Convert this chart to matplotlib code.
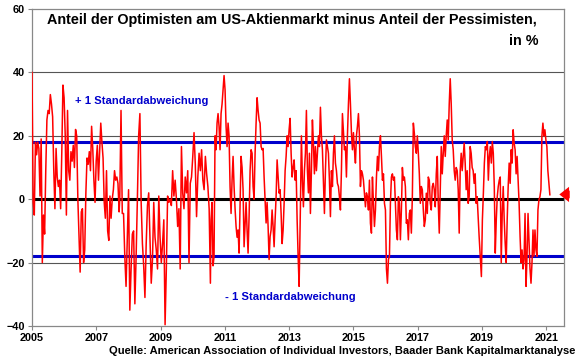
import numpy as np
import matplotlib.pyplot as plt

plt.rcParams['font.family'] = ['Liberation Sans', 'DejaVu Sans']
plt.rcParams['font.weight'] = 'bold'

# AAII Bull-Bear-Spread (Optimisten minus Pessimisten, in %).
# Je Abschnitt: Anfang, Ende (Dezimaljahr) und die Werte dazwischen
spans = [(2005.00, 2007.71), (2007.73, 2010.55), (2010.57, 2013.31),
         (2013.35, 2016.12), (2016.15, 2018.91), (2018.98, 2021.11)]

spread_2005 = [40, -1, -5, 18, 14, 18, 16, 1, 19, -20, -5, -11, 9, 25, 28, 27, 33, 30, 26, 9,
               -3, 16, 7, 4, 6, -3, 15, 36, 32, 20, -5, 28, 9, 6, 15, 12, 17, 10, 22, 20,
               0, -12, -23, -4, -3, -20, -16, 2, 13, 11, 15, 9, 23, 16, 6, -1, 12, 17, 6, 15,
               24, 18, 13, -1, -6, 9, -10, -13, 1, -6, 0, 3, 9, 6, 7, 5, -4]
spread_2008 = [0, 28, -4.5, -4.5, -18, -27.5, -12, 3, -35, -22, -11, -10, -33, -18, 0, 20, 27,
               -1, -14, -21, -31, -14, -2, 2, -12, -26.5, -19, -1, -12, -16, -22, 1, -12, -20,
               -14, -6.5, -39.6, -22, 1, -1, 0, -2, 9, 1, 6, 0, -8.6, -3, -22, 16.6, 2, -3, 7,
               2, 9, -20, 5, 7, 13.5, 21, 11, -5.5, 7, 14.5, 9, 15.6, 6, 3, 13.5, 8, 4, -3, -26.5]
spread_2011 = [-6.5, -1, -21, -18, 20, 15.6, 24, 27, 23, 15.6, 27, 30, 34.5, 39, 34.5, 23, 16.6,
               24, 20, 4, -4.5, 6, 13.5, 4, -3, -8.6, -12, -9.7, -17, -1, 13.5, 10, 3, -15,
               -7.6, -1, -9.7, -17, -5.5, 9, 15.6, 14.5, 4, 0, 14.5, 24, 32, 28, 25, 24, 16.6,
               15.6, 16, 7, 0, -7.5, -1, -8.6, -19, -11.8, -9.7, -3.4, -8.6, -15, -6.5, 0.8,
               12.4, 7, 1.9, 3, -4.5, -14, -9.7, -1.3, 9, 13.5, 20, 16.6, 22, 25.5, 14.5, 7,
               10, 12.4, 6, 9, -6.5, -18, -27.5]
spread_2013 = [-2.4, 20, 6, -2.4, 9, 14.5, 28, 9, 2, 14.5, -4.5, 9, 25, 17.7, 8, 16.6, 9, 14.5,
               20, 16.6, 29, 20, 15.6, 6, -4.5, 9, 18.7, 16.6, 14.5, 6, -5.5, 9, 4, 14.5, 20,
               11.4, 9, 5, 4, 0.8, -3.4, 9, 27, 21, 15.6, 16.6, 7, 20, 30, 38, 30, 21, 15.6, 21,
               15.6, 11.4, 20, 23, 27, 20, 4, 9, 8, 6, 2, -2.4, 2, 0.8, -3.4, 6, -7.6, -10.7, 7,
               -1.3, -8.6, -3.4, 7, 13.5, 9, 16.6, 20, 13.5, 6, 8, -1.3, -3.4, -22, -26.5, -19, -18]
spread_2016 = [-1.3, 7, 8, 6, 7, -1.3, -9.7, -12.8, 0.8, -1.3, -12.8, -3.4, 10, 6, 7, 4, -7.6,
               -6.5, -12.8, -4.5, -3.4, -10.7, 0.8, 24, 20.8, 16.6, 14.5, 20, 14.5, 8, -1.3, 4,
               3, -3.4, -8.6, -6.5, 1.9, -4.5, 7, 6, -1.3, -3.4, 4, 5, 3, -2.4, 8, 13.5, -1.3,
               -10.7, 3, 16.6, 8, 14.5, 20, 13.5, 20, 25, 18.7, 30, 38, 30, 18.7, 15.6, 9, 6,
               10, 9, 3, -10.7, 9, 14.5, 9, 13.5, 17.7, 11.4, 3, 9, -1.3, 0.8, 16.6, 14.5, 10,
               9, 5, 8, -1.3, 0.8, -5.5, -11.8]
spread_2019 = [-24.4, -6.5, 1.9, 11.4, 16.6, 15.6, 18.2, 6, 13.5, 16.6, 11.4, 18.2, 14.5, 4,
               -17, -6.5, 0.8, 4, 6, 7, -20, -4.5, 4, -6.5, -14, -20, -6.5, 4, 11.4, 5, 15.6,
               11.4, 21.9, 17.7, 15.6, 8, 13.5, 6, -1.3, -11.8, -20, -16, -22, -19, -4.5,
               -27.5, -18, -4.5, -12.8, -22, -26.5, -20, -9.7, -18, -9.7, -16, -18, -3.4,
               -0.2, 0.8, 3, 20, 24, 20, 21.9, 18.7, 16.6, 9, 5, 1.4]

segments = [spread_2005, spread_2008, spread_2011, spread_2013, spread_2016, spread_2019]
std_band = 17.9
year_ticks = list(range(2005, 2022, 2))

dates = np.concatenate([np.linspace(a, b, len(v)) for (a, b), v in zip(spans, segments)])
values = np.concatenate([np.array(v, dtype=float) for v in segments])

fig = plt.figure(figsize=(5.8, 3.59), dpi=100)
ax = fig.add_axes([32 / 580, 1 - 326 / 359, 532 / 580, 317 / 359])

for y in (40, 20, -20):
    ax.axhline(y, color='#555555', lw=0.8, zorder=1)
ax.axhline(std_band, color='#0000CC', lw=2.2, zorder=2)
ax.axhline(-std_band, color='#0000CC', lw=2.2, zorder=2)
ax.axhline(0, color='black', lw=2.2, zorder=2)
ax.plot(dates, values, color='#FF0000', lw=1.1, zorder=3)

ax.set_xlim(2005, 2021.55)
ax.set_ylim(-40, 60)
ax.set_xticks(year_ticks)
ax.set_xticklabels([str(y) for y in year_ticks])
ax.set_yticks([-40, -20, 0, 20, 40, 60])
ax.tick_params(axis='both', labelsize=7.8, length=3, color='#888888', pad=2)
for s in ax.spines.values():
    s.set_color('#888888')
    s.set_linewidth(0.9)

ax.text(0.488, 0.965, 'Anteil der Optimisten am US-Aktienmarkt minus Anteil der Pessimisten,',
        transform=ax.transAxes, ha='center', va='center', fontsize=10.4)
ax.text(0.952, 0.899, 'in %', transform=ax.transAxes, ha='right', va='center', fontsize=10.4)
ax.text(2006.35, 31, '+ 1 Standardabweichung', color='#0000CC', fontsize=8.1, va='center')
ax.text(2011.0, -30.7, '- 1 Standardabweichung', color='#0000CC', fontsize=8.1, va='center')
fig.text(0.992, 0.008, 'Quelle: American Association of Individual Investors, Baader Bank Kapitalmarktanalyse',
         ha='right', va='bottom', fontsize=8.0)

ax.annotate('', xy=(0.986, 1.5), xycoords=('axes fraction', 'data'),
            xytext=(1.016, 1.5), textcoords=('axes fraction', 'data'),
            arrowprops=dict(arrowstyle='simple,head_length=0.7,head_width=1.1,tail_width=0.55',
                            color='#FF0000', lw=0),
            annotation_clip=False)

fig.savefig('out.png', dpi=100)
